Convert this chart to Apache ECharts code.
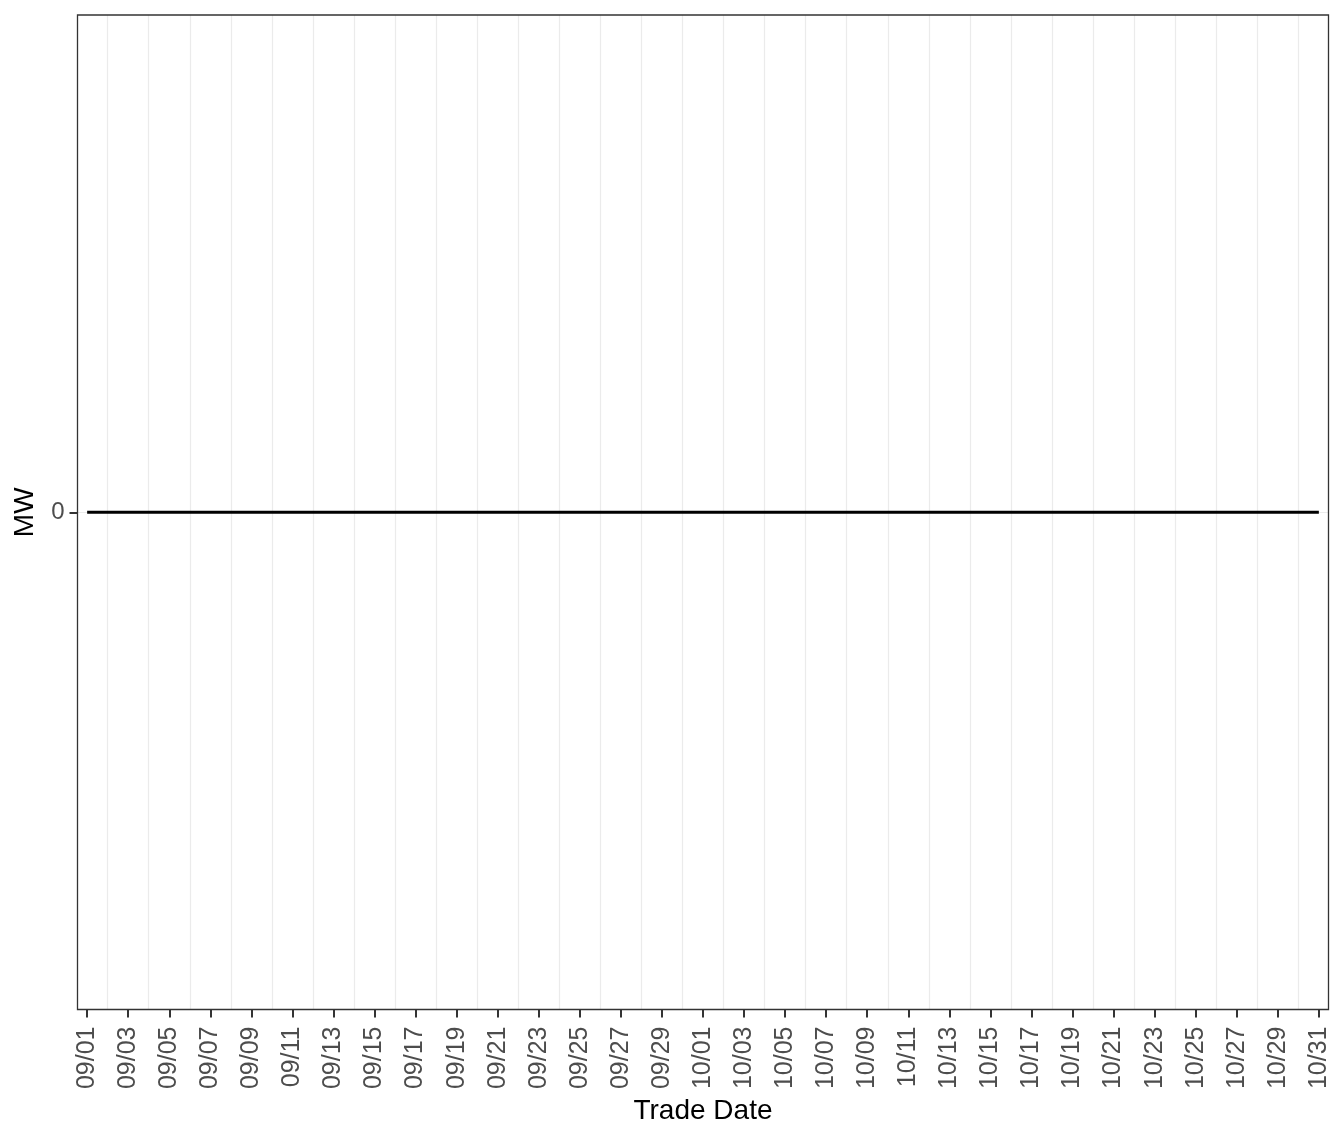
<!DOCTYPE html>
<html>
<head>
<meta charset="utf-8">
<script src="https://cdn.jsdelivr.net/npm/echarts@6/dist/echarts.min.js"></script>
<style>html,body{margin:0;padding:0;background:#fff}#c{width:1344px;height:1142px}</style>
</head>
<body>
<div id="c"></div>
<script>
var dates = ["09/01","09/02","09/03","09/04","09/05","09/06","09/07","09/08","09/09","09/10",
"09/11","09/12","09/13","09/14","09/15","09/16","09/17","09/18","09/19","09/20",
"09/21","09/22","09/23","09/24","09/25","09/26","09/27","09/28","09/29","09/30",
"10/01","10/02","10/03","10/04","10/05","10/06","10/07","10/08","10/09","10/10",
"10/11","10/12","10/13","10/14","10/15","10/16","10/17","10/18","10/19","10/20",
"10/21","10/22","10/23","10/24","10/25","10/26","10/27","10/28","10/29","10/30","10/31"];
var mwValues = [0,0,0,0,0,0,0,0,0,0, 0,0,0,0,0,0,0,0,0,0, 0,0,0,0,0,0,0,0,0,0,
0,0,0,0,0,0,0,0,0,0, 0,0,0,0,0,0,0,0,0,0, 0,0,0,0,0,0,0,0,0,0, 0];
var labelDates = ["09/01","09/03","09/05","09/07","09/09","09/11","09/13","09/15","09/17","09/19",
"09/21","09/23","09/25","09/27","09/29","10/01","10/03","10/05","10/07","10/09",
"10/11","10/13","10/15","10/17","10/19","10/21","10/23","10/25","10/27","10/29","10/31"];
var gridDates = ["09/02","09/04","09/06","09/08","09/10","09/12","09/14","09/16","09/18","09/20",
"09/22","09/24","09/26","09/28","09/30","10/02","10/04","10/06","10/08","10/10",
"10/12","10/14","10/16","10/18","10/20","10/22","10/24","10/26","10/28","10/30"];
var yTicks = [0];

var labelIdx = labelDates.map(function(d){return dates.indexOf(d);});
var gridIdx = gridDates.map(function(d){return dates.indexOf(d);});
var font = 'Liberation Sans';
var chart = echarts.init(document.getElementById('c'));
chart.setOption({
  animation: false,
  backgroundColor: '#fff',
  grid: {left: 77.5, right: 15.5, top: 15, bottom: 132.5, show: true, borderColor: '#333', borderWidth: 1.3, backgroundColor: 'transparent', containLabel: false, z: 10},
  xAxis: [{
    type: 'value', min: -0.47, max: 60.47, position: 'bottom',
    name: 'Trade Date', nameLocation: 'middle', nameGap: 82,
    nameTextStyle: {fontFamily: font, fontSize: 28, color: '#000'},
    axisLine: {show: false, onZero: false},
    axisTick: {show: true, length: 8, lineStyle: {color: '#333', width: 2}, customValues: labelIdx},
    axisLabel: {customValues: labelIdx, rotate: 90, margin: 17, fontFamily: font, fontSize: 25, color: '#4d4d4d',
      formatter: function(v){ return dates[Math.round(v)] || ''; }},
    splitLine: {show: false}
  },{
    type: 'value', min: -0.47, max: 60.47, position: 'bottom',
    axisLine: {show: false, onZero: false},
    axisTick: {show: false, customValues: gridIdx},
    axisLabel: {show: false, customValues: gridIdx},
    splitLine: {show: true, lineStyle: {color: '#ebebeb', width: 1.2}}
  }],
  yAxis: {
    type: 'value', min: -1, max: 1,
    name: 'MW', nameLocation: 'middle', nameGap: 38,
    nameTextStyle: {fontFamily: font, fontSize: 28, color: '#000'},
    axisLine: {show: false, onZero: false},
    axisTick: {show: true, length: 8, lineStyle: {color: '#333', width: 2}, customValues: yTicks},
    axisLabel: {customValues: yTicks, margin: 13, fontFamily: font, fontSize: 24, color: '#4d4d4d'},
    splitLine: {show: true, lineStyle: {color: '#ebebeb', width: 1.2}}
  },
  series: [{
    type: 'line', xAxisIndex: 0,
    data: mwValues.map(function(v, i){ return [i, v]; }),
    showSymbol: false, symbol: 'none',
    lineStyle: {color: '#000', width: 2.8},
    z: 5
  }]
});
</script>
</body>
</html>
